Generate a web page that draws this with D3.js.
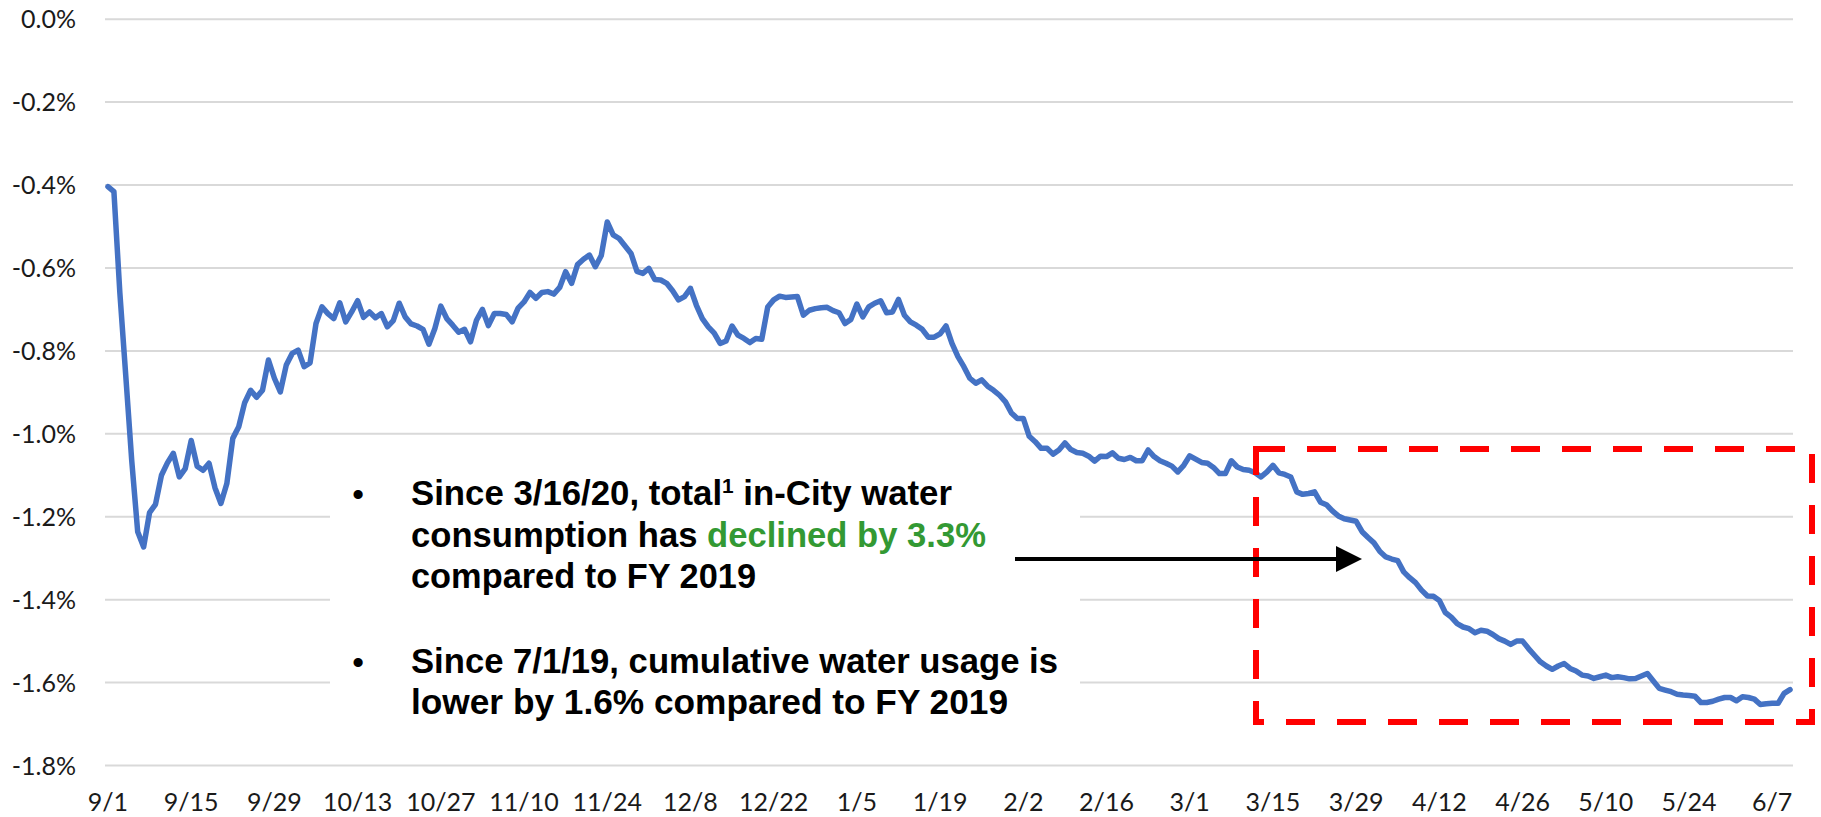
<!DOCTYPE html>
<html>
<head>
<meta charset="utf-8">
<script src="https://cdn.jsdelivr.net/npm/d3@7"></script>
<style>
html,body{margin:0;padding:0;background:#fff;}
svg{display:block;}
</style>
</head>
<body>
<svg id="chart" width="1821" height="817"></svg>
<script>
// ---- Data (percent change vs FY2019, one value per day from 9/1/2019) ----
const sepVals = [-0.404,-0.416,-0.660,-0.861,-1.065,-1.236,-1.273,-1.190,-1.170,-1.100,
  -1.070,-1.047,-1.104,-1.084,-1.016,-1.078,-1.088,-1.071,-1.130,-1.168,
  -1.120,-1.011,-0.983,-0.925,-0.895,-0.912,-0.895,-0.822,-0.866,-0.899];
const octVals = [-0.834,-0.806,-0.798,-0.838,-0.829,-0.734,-0.694,-0.710,-0.722,-0.684,
  -0.730,-0.706,-0.679,-0.719,-0.706,-0.720,-0.710,-0.742,-0.727,-0.685,
  -0.718,-0.735,-0.740,-0.748,-0.784,-0.746,-0.692,-0.722,-0.738,-0.755,-0.748];
const novVals = [-0.778,-0.726,-0.700,-0.739,-0.710,-0.710,-0.712,-0.730,-0.697,-0.682,
  -0.659,-0.673,-0.659,-0.657,-0.663,-0.647,-0.609,-0.637,-0.592,-0.579,
  -0.569,-0.597,-0.570,-0.489,-0.520,-0.529,-0.547,-0.565,-0.608,-0.613];
const decVals = [-0.601,-0.628,-0.629,-0.637,-0.655,-0.677,-0.669,-0.649,-0.690,
  -0.722,-0.742,-0.757,-0.782,-0.776,-0.740,-0.762,-0.770,-0.780,-0.770,-0.772,
  -0.694,-0.677,-0.668,-0.671,-0.670,-0.669,-0.714,-0.702,-0.698,-0.696,-0.695];
const janVals = [-0.703,-0.708,-0.734,-0.724,-0.687,-0.718,-0.694,-0.685,-0.679,
  -0.708,-0.706,-0.676,-0.714,-0.730,-0.738,-0.748,-0.767,-0.767,-0.759,
  -0.740,-0.782,-0.814,-0.838,-0.866,-0.878,-0.870,-0.885,-0.895,-0.907,
  -0.923,-0.950];
const febVals = [-0.963,-0.963,-1.006,-1.019,-1.035,-1.035,-1.049,
  -1.039,-1.022,-1.038,-1.045,-1.047,-1.054,-1.066,-1.054,-1.055,-1.046,
  -1.059,-1.062,-1.057,-1.065,-1.065,-1.039,-1.055,-1.065,-1.071,-1.078,
  -1.092,-1.076];
const marVals = [-1.053,-1.061,-1.069,-1.071,-1.081,-1.096,-1.096,-1.065,
  -1.080,-1.086,-1.088,-1.094,-1.104,-1.092,-1.076,-1.094,-1.098,-1.104,
  -1.140,-1.146,-1.144,-1.140,-1.165,-1.171,-1.186,-1.198,-1.205,-1.208,
  -1.211,-1.236,-1.250];
const aprVals = [-1.263,-1.284,-1.297,-1.302,-1.306,-1.333,-1.347,
  -1.359,-1.377,-1.391,-1.392,-1.402,-1.431,-1.442,-1.458,-1.466,-1.470,
  -1.480,-1.474,-1.476,-1.484,-1.494,-1.500,-1.508,-1.500,-1.500,-1.518,
  -1.534,-1.550,-1.560];
const mayVals = [-1.568,-1.560,-1.554,-1.566,-1.572,-1.582,-1.584,
  -1.590,-1.586,-1.582,-1.588,-1.586,-1.588,-1.591,-1.590,-1.584,-1.578,
  -1.596,-1.614,-1.618,-1.622,-1.628,-1.630,-1.631,-1.633,-1.648,-1.648,
  -1.645,-1.640,-1.636,-1.636];
const junVals = [-1.644,-1.634,-1.636,-1.640,-1.653,-1.651,-1.650,-1.650,-1.626,-1.617];

const yTicks = [0,-0.2,-0.4,-0.6,-0.8,-1.0,-1.2,-1.4,-1.6,-1.8];
const xLabelEvery = 14;
const startDate = new Date(2019, 8, 1);

const bullet1 = {pre: "Since 3/16/20, total", sup: "1", post: " in-City water"};
const bullet1b = {pre: "consumption has ", green: "declined by 3.3%"};
const bullet1c = "compared to FY 2019";
const bullet2a = "Since 7/1/19, cumulative water usage is";
const bullet2b = "lower by 1.6% compared to FY 2019";

// ---- Build ----
const values = [].concat(sepVals, octVals, novVals, decVals, janVals, febVals, marVals, aprVals, mayVals, junVals);
const dates = values.map((v, i) => d3.timeDay.offset(startDate, i));
const fmt = d3.timeFormat("%-m/%-d");
const pct = d3.formatLocale({decimal: ".", thousands: ",", grouping: [3], currency: ["$", ""], minus: "-"}).format(".1f");

const svg = d3.select("#chart");
const W = 1821, H = 817;
const plot = {left: 105, right: 1793, top: 19.2, bottom: 765.5};

const x = d3.scaleBand().domain(d3.range(values.length)).range([plot.left, plot.right]).padding(0);
const xc = i => x(i) + x.bandwidth() / 2;
const y = d3.scaleLinear().domain([-1.8, 0]).range([plot.bottom, plot.top]);

svg.append("rect").attr("width", W).attr("height", H).attr("fill", "#fff");

// gridlines
svg.append("g").selectAll("line").data(yTicks).join("line")
  .attr("x1", plot.left).attr("x2", plot.right)
  .attr("y1", d => y(d)).attr("y2", d => y(d))
  .attr("stroke", "#D9D9D9").attr("stroke-width", 2);

// y labels
svg.append("g").selectAll("text").data(yTicks).join("text")
  .attr("x", 76).attr("y", d => y(d) + 9)
  .attr("text-anchor", "end")
  .attr("font-family", "Lato, 'Open Sans', sans-serif")
  .attr("font-size", 25).attr("fill", "#1a1a1a")
  .text(d => pct(d) + "%");

// x labels
const xIdx = d3.range(0, values.length, xLabelEvery);
svg.append("g").selectAll("text").data(xIdx).join("text")
  .attr("x", d => xc(d)).attr("y", 811)
  .attr("text-anchor", "middle")
  .attr("font-family", "Lato, 'Open Sans', sans-serif")
  .attr("font-size", 25).attr("fill", "#1a1a1a")
  .text(d => fmt(dates[d]));

// line
const line = d3.line().x((d, i) => xc(i)).y(d => y(d));
svg.append("path").datum(values)
  .attr("d", line)
  .attr("fill", "none").attr("stroke", "#4472C4")
  .attr("stroke-width", 5.5).attr("stroke-linejoin", "round").attr("stroke-linecap", "round");

// text box background
svg.append("rect").attr("x", 330).attr("y", 470).attr("width", 750).attr("height", 270).attr("fill", "#fff");

const tf = "'Liberation Sans', Arial, Helvetica, sans-serif";
function addLine(yy, len) {
  return svg.append("text").attr("x", 411).attr("y", yy)
    .attr("font-family", tf).attr("font-weight", "bold").attr("font-size", 35)
    .attr("fill", "#000").attr("textLength", len).attr("lengthAdjust", "spacingAndGlyphs");
}
function addBullet(yy) {
  svg.append("text").attr("x", 358).attr("y", yy).attr("text-anchor", "middle")
    .attr("font-family", tf).attr("font-weight", "bold").attr("font-size", 32)
    .attr("fill", "#000").text("\u2022");
}
addBullet(505);
const t1 = addLine(505, 541);
t1.append("tspan").text(bullet1.pre);
t1.append("tspan").attr("font-size", 21).attr("dy", -12).text(bullet1.sup);
t1.append("tspan").attr("dy", 12).text(bullet1.post);
const t2 = addLine(546.5, 575);
t2.append("tspan").text(bullet1b.pre);
t2.append("tspan").attr("fill", "#339933").text(bullet1b.green);
addLine(587.5, 345).text(bullet1c);
addBullet(672.5);
addLine(672.5, 647).text(bullet2a);
addLine(713.5, 597).text(bullet2b);

// red dashed box
svg.append("rect").attr("x", 1256).attr("y", 449).attr("width", 556).attr("height", 273)
  .attr("fill", "none").attr("stroke", "#FF0000").attr("stroke-width", 6)
  .attr("stroke-dasharray", "29 22");

// arrow
svg.append("line").attr("x1", 1015).attr("x2", 1338).attr("y1", 559).attr("y2", 559)
  .attr("stroke", "#000").attr("stroke-width", 4);
svg.append("path").attr("d", "M1336,546 L1362,559 L1336,572 Z").attr("fill", "#000");
</script>
</body>
</html>
